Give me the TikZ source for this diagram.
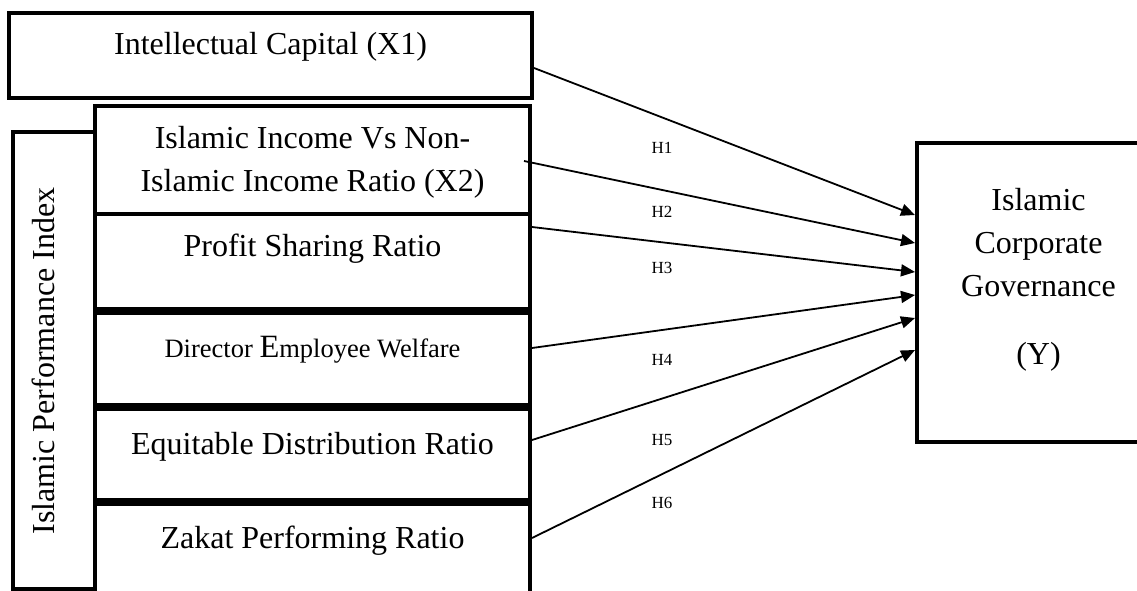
\documentclass[tikz,border=0pt]{standalone}
\usepackage{fontspec}
\setmainfont{Liberation Serif}
\usetikzlibrary{arrows.meta,positioning}

\tikzset{
    caja/.style={draw, line width=4pt, inner sep=0pt},
    flecha/.style={line width=1.8pt, -{Triangle[length=14pt,width=12pt]}},
    texto/.style={font=\fontsize{32}{43}\selectfont, align=center, inner sep=0pt},
    hipo/.style={font=\fontsize{17}{20}\selectfont, inner sep=0pt}
}

\begin{document}
\begin{tikzpicture}[x=1pt, y=-1pt]
            \useasboundingbox (0,0) rectangle (1137,591);

            % Caja de arriba y la caja vertical del índice
            \node[caja, minimum width=523pt, minimum height=85pt] (ic) at (270.5,55.5) {};
            \node[caja, minimum width=82pt, minimum height=457pt] (ipi) at (54,360.5) {};

            % Los cinco componentes, uno debajo del otro
            \foreach \nom/\yc/\alto in {x2/160/108, psr/261.5/95, dew/359/92, edr/454.5/91, zpr/552/96}
                \node[caja, minimum width=435pt, minimum height=\alto pt] (\nom) at (312.5,\yc) {};

            % Caja de la variable dependiente (sale por la derecha)
            \node[caja, minimum width=243pt, minimum height=299pt] (icg) at (1038.5,292.5) {};

            % Textos de las cajas
            \node[texto] (ic-t) at ([yshift=-36pt]ic.north) {Intellectual Capital (X1)};
            \node[texto, rotate=90] (ipi-t) at (43,361) {Islamic Performance Index};
            \node[texto] (x2-t) at ([yshift=-2pt]x2) {Islamic Income Vs Non-\\Islamic Income Ratio (X2)};
            \node[texto] (psr-t) at ([yshift=-37pt]psr.north) {Profit Sharing Ratio};
            \node[texto, font=\fontsize{26.5}{30}\selectfont] (dew-t) at ([yshift=-39pt]dew.north)
                {Director {\fontsize{32.5}{30}\selectfont E}mployee Welfare};
            \node[texto] (edr-t) at ([yshift=-40pt]edr.north) {Equitable Distribution Ratio};
            \node[texto] (zpr-t) at ([yshift=-39pt]zpr.north) {Zakat Performing Ratio};
            \node[texto] (icg-t) at ([yshift=13pt]icg)
                {Islamic\\Corporate\\Governance\\[25pt](Y)};

            % Flechas de cada variable hacia la caja de la derecha
            \foreach \src/\dx/\sa/\tb in {ic/0/-12.5/77.5, x2/-8/-1/49.5, psr/0/34.5/20.5,
                                          dew/0/11/-2.5, edr/0/14.5/-25.5, zpr/0/14/-57.5}
                \draw[flecha] ([xshift=\dx pt, yshift=\sa pt]\src.east) -- ([yshift=\tb pt]icg.west);

            % Etiquetas de las hipótesis
            \foreach \h/\yy in {1/148, 2/212, 3/268, 4/360, 5/440, 6/503}
                \node[hipo] (h\h) at (662,\yy) {H\h};
        \end{tikzpicture}
\end{document}
